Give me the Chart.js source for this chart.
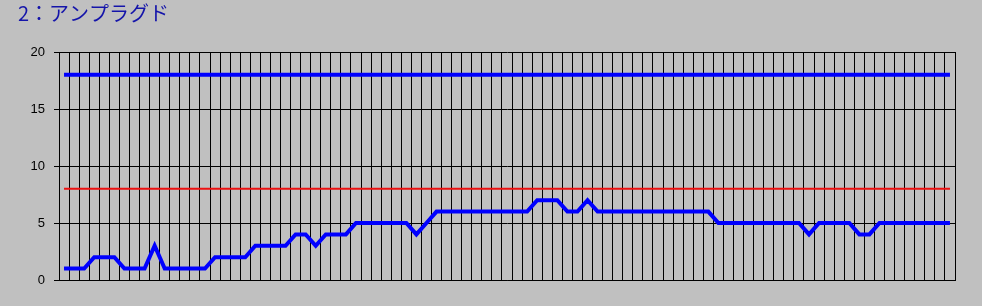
<!DOCTYPE html>
<html>
<head>
<meta charset="utf-8">
<script src="https://cdn.jsdelivr.net/npm/chart.js@4"></script>
<style>
  html, body { margin: 0; padding: 0; background: #c0c0c0; }
  #wrap { width: 982px; height: 306px; }
</style>
</head>
<body>
<div id="wrap"><canvas id="myChart" width="982" height="306"></canvas></div>
<script>
// DATOS DEL GRAFICO
const titulo = "2：アンプラグド";
const valores = [
  1, 1, 1, 2, 2, 2, 1, 1, 1, 3,
  1, 1, 1, 1, 1, 2, 2, 2, 2, 3,
  3, 3, 3, 4, 4, 3, 4, 4, 4, 5,
  5, 5, 5, 5, 5, 4, 5, 6, 6, 6,
  6, 6, 6, 6, 6, 6, 6, 7, 7, 7,
  6, 6, 7, 6, 6, 6, 6, 6, 6, 6,
  6, 6, 6, 6, 6, 5, 5, 5, 5, 5,
  5, 5, 5, 5, 4, 5, 5, 5, 5, 4,
  4, 5, 5, 5, 5, 5, 5, 5, 5
];
const categorias = valores.map((v, i) => String(i + 1));
const limiteSuperior = 18;
const limiteInferior = 8;
const ticksY = [0, 5, 10, 15, 20];

document.addEventListener("DOMContentLoaded", () => {
  const contexto = document.getElementById("myChart").getContext("2d");

  new Chart(contexto, {
    type: "line",
    data: {
      labels: categorias,
      datasets: [
        {
          label: "上限",
          data: categorias.map(() => limiteSuperior),
          borderColor: "#0000ff",
          borderWidth: 4,
          pointRadius: 0,
          tension: 0,
        },
        {
          label: "下限",
          data: categorias.map(() => limiteInferior),
          borderColor: "#ee1010",
          borderWidth: 2,
          pointRadius: 0,
          tension: 0,
        },
        {
          label: "値",
          data: valores,
          borderColor: "#0000ff",
          borderWidth: 4,
          pointRadius: 0,
          tension: 0,
        },
      ],
    },
    options: {
      responsive: false,
      animation: false,
      layout: { padding: { left: 18, right: 27, top: 0, bottom: 26 } },
      plugins: {
        legend: { display: false },
        tooltip: { enabled: false },
        title: {
          display: true,
          text: titulo,
          align: "start",
          color: "#1414aa",
          font: { family: "'Noto Sans CJK JP', sans-serif", size: 20, weight: "normal" },
          padding: { top: 1, bottom: 27 },
        },
      },
      scales: {
        x: {
          offset: true,
          grid: { offset: true, color: "#000", lineWidth: 1, drawTicks: false },
          border: { color: "#000", width: 1 },
          ticks: { display: false },
          afterFit: (escala) => { escala.height = 0; },
        },
        y: {
          min: 0,
          max: 20,
          afterBuildTicks: (escala) => { escala.ticks = ticksY.map((v) => ({ value: v })); },
          grid: { color: "#000", lineWidth: 1, tickLength: 5 },
          border: { color: "#000", width: 1 },
          ticks: {
            color: "#000",
            padding: 9,
            font: { family: "'Liberation Sans', Arial, sans-serif", size: 13 },
          },
          afterFit: (escala) => { escala.width = 41; },
        },
      },
    },
  });
});
</script>
</body>
</html>
